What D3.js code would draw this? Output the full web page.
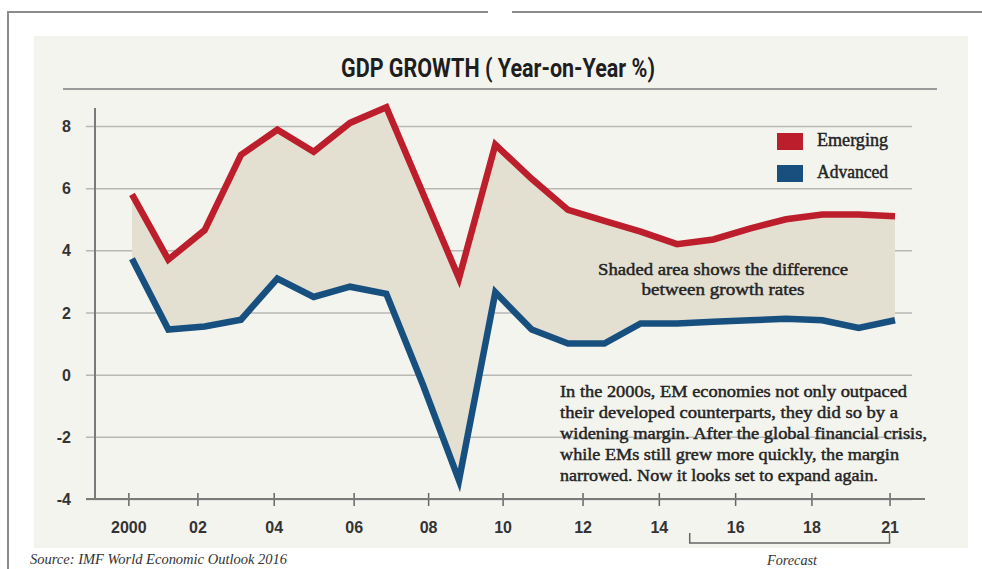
<!DOCTYPE html>
<html>
	<head>
		<meta charset="utf-8">
		<title>gdp_growth_em_vs_advanced</title>
		<script type="text/javascript" src="https://cdn.jsdelivr.net/npm/d3@7"></script>
		<style>
			body{margin:0;background:#fff;}
		</style>
	</head>
	<body>
		<script type="text/javascript">
			// data (IMF WEO 2016, y-o-y %)
			var years=[2000,2001,2002,2003,2004,2005,2006,2007,2008,2009,2010,
					   2011,2012,2013,2014,2015,2016,2017,2018,2019,2020,2021];
			var emerging=[5.8,3.7,4.65,7.07,7.88,7.17,8.1,8.6,5.85,3.1,7.4,
						  6.3,5.3,4.95,4.6,4.2,4.35,4.7,5.0,5.15,5.15,5.1];
			var advanced=[3.73,1.45,1.55,1.77,3.09,2.5,2.83,2.6,-0.3,-3.4,2.65,
						  1.45,1.0,1.0,1.65,1.65,1.7,1.75,1.8,1.75,1.5,1.75];
			// the original ticks are not quite on the data years
			var xTickPos=[1999.9,2001.8,2003.9,2006.1,2008.15,2010.2,2012.4,2014.5,2016.6,2018.7,2020.85];
			var xTickLabels=['2000','02','04','06','08','10','12','14','16','18','21'];
			var yTicks=[-4,-2,0,2,4,6,8];
			var seriesNames=['Emerging','Advanced'];
			var noteLines=['In the 2000s, EM economies not only outpaced',
						   'their developed counterparts, they did so by a',
						   'widening margin. After the global financial crisis,',
						   'while EMs still grew more quickly, the margin',
						   'narrowed. Now it looks set to expand again.'];
			var noteWidths=[347,338,367,339,318];

			var w=982;
			var h=569;
			var red='#bd1e2b';
			var blue='#17507f';
			var ink='#232323';
			var serif='"Liberation Serif","DejaVu Serif",serif';

			var table=years.map(function(d,i){
				return {year:d,em:emerging[i],adv:advanced[i]};
			});

			var svg=d3.select('body').append('svg')
					  .attr('width',w)
					  .attr('height',h)

			// outer frame
			svg.append('line').attr('x1',7).attr('x2',488).attr('y1',12).attr('y2',12)
			   .attr('stroke','#8c8c8c').attr('stroke-width',2)
			svg.append('line').attr('x1',512).attr('x2',982).attr('y1',12).attr('y2',12)
			   .attr('stroke','#8c8c8c').attr('stroke-width',2)
			svg.append('line').attr('x1',8).attr('x2',8).attr('y1',11).attr('y2',569)
			   .attr('stroke','#8c8c8c').attr('stroke-width',2)

			svg.append('rect')
			   .attr('x',34).attr('y',36)
			   .attr('width',934).attr('height',512)
			   .attr('fill','#f4f4ef')

			svg.append('text')
			   .text('GDP GROWTH ( Year-on-Year %)')
			   .attr('x',498).attr('y',77)
			   .attr('text-anchor','middle')
			   .attr('font-family','"Liberation Sans Narrow","Roboto","Liberation Sans",sans-serif')
			   .attr('font-weight','bold')
			   .attr('font-size','26px')
			   .attr('textLength',314)
			   .attr('lengthAdjust','spacingAndGlyphs')
			   .attr('fill','#1e1e1e')

			svg.append('line').attr('x1',63).attr('x2',937).attr('y1',89).attr('y2',89)
			   .attr('stroke','#9a9a9a').attr('stroke-width',2)

			var xScale=d3.scaleLinear()
						 .domain([2000,2021])
						 .range([132,895]);

			var yScale=d3.scaleLinear()
						 .domain([-4,8])
						 .range([499,126]);

			// gridlines + y labels
			var yAxis=svg.append('g')
						 .attr('transform','translate(86,0)')
						 .call(d3.axisLeft(yScale)
								 .tickValues(yTicks)
								 .tickSize(-826)
								 .tickPadding(15)
								 .tickFormat(function(d){return String(d);}))
			yAxis.select('.domain').remove()
			yAxis.selectAll('.tick line')
				 .attr('stroke','#b8b8b4')
				 .attr('stroke-width',1.5)
			yAxis.selectAll('.tick text')
				 .attr('font-family','"Liberation Sans",Arial,sans-serif')
				 .attr('font-weight','bold')
				 .attr('font-size','16px')
				 .attr('fill','#333')
				 .attr('dy','0.35em')

			// shaded gap between the two series
			var area=d3.area()
					   .x(function(d){return xScale(d.year);})
					   .y0(function(d){return yScale(d.adv);})
					   .y1(function(d){return yScale(d.em);});

			svg.append('path')
			   .datum(table)
			   .attr('d',area)
			   .attr('fill','#e3e0d2')

			// axis lines
			svg.append('line').attr('x1',95).attr('x2',95).attr('y1',108).attr('y2',499)
			   .attr('stroke','#7a7a7a').attr('stroke-width',2)

			var xAxis=svg.append('g')
						 .attr('transform','translate(0,'+yScale(-4)+')')
						 .call(d3.axisBottom(xScale)
								 .tickValues(xTickPos)
								 .tickSize(7)
								 .tickPadding(16)
								 .tickFormat(function(d,i){return xTickLabels[i];}))
			xAxis.select('.domain').remove()
			xAxis.append('line')
				 .attr('x1',86).attr('x2',925)
				 .attr('stroke','#7a7a7a').attr('stroke-width',2)
			xAxis.selectAll('.tick line')
				 .attr('y1',-6)
				 .attr('stroke','#666')
				 .attr('stroke-width',1.5)
			xAxis.selectAll('.tick text')
				 .attr('font-family','"Liberation Sans",Arial,sans-serif')
				 .attr('font-weight','bold')
				 .attr('font-size','16px')
				 .attr('fill','#333')

			var lineEm=d3.line()
						 .x(function(d){return xScale(d.year);})
						 .y(function(d){return yScale(d.em);});
			var lineAdv=d3.line()
						  .x(function(d){return xScale(d.year);})
						  .y(function(d){return yScale(d.adv);});

			svg.append('path')
			   .datum(table)
			   .attr('d',lineAdv)
			   .attr('fill','none')
			   .attr('stroke',blue)
			   .attr('stroke-width',6.5)
			   .attr('stroke-linejoin','miter')

			svg.append('path')
			   .datum(table)
			   .attr('d',lineEm)
			   .attr('fill','none')
			   .attr('stroke',red)
			   .attr('stroke-width',6.5)
			   .attr('stroke-linejoin','miter')

			// legend
			var legend=svg.selectAll('.legend')
						  .data(seriesNames)
						  .enter()
						  .append('g')
						  .attr('class','legend')
						  .attr('transform',function(d,i){
											return 'translate(777,'+(133+i*32)+')';
										})
			legend.append('rect')
				  .attr('width',26).attr('height',17)
				  .attr('fill',function(d,i){return i==0?red:blue;})
			legend.append('text')
				  .text(function(d){return d;})
				  .attr('x',40).attr('y',13)
				  .attr('font-family',serif)
				  .attr('font-size','18px')
				  .attr('textLength',71)
				  .attr('lengthAdjust','spacingAndGlyphs')
				  .attr('fill',ink)
				  .attr('stroke',ink)
				  .attr('stroke-width',0.45)

			// annotations
			svg.selectAll('.shade-note')
			   .data(['Shaded area shows the difference','between growth rates'])
			   .enter()
			   .append('text')
			   .attr('class','shade-note')
			   .text(function(d){return d;})
			   .attr('x',723)
			   .attr('y',function(d,i){return 275+i*20;})
			   .attr('text-anchor','middle')
			   .attr('font-family',serif)
			   .attr('font-size','17px')
			   .attr('textLength',function(d,i){return i==0?250:163;})
			   .attr('lengthAdjust','spacingAndGlyphs')
			   .attr('fill',ink)
			   .attr('stroke',ink)
			   .attr('stroke-width',0.45)

			svg.selectAll('.note')
			   .data(noteLines)
			   .enter()
			   .append('text')
			   .attr('class','note')
			   .text(function(d){return d;})
			   .attr('x',560)
			   .attr('y',function(d,i){return 397+i*21;})
			   .attr('font-family',serif)
			   .attr('font-size','17px')
			   .attr('textLength',function(d,i){return noteWidths[i];})
			   .attr('lengthAdjust','spacingAndGlyphs')
			   .attr('fill',ink)
			   .attr('stroke',ink)
			   .attr('stroke-width',0.45)

			// forecast bracket
			svg.append('path')
			   .attr('d','M'+xScale(2015.35)+',533V543H'+xScale(2020.85)+'V533')
			   .attr('fill','none')
			   .attr('stroke','#666')
			   .attr('stroke-width',1.5)
			svg.append('text')
			   .text('Forecast')
			   .attr('x',792).attr('y',565)
			   .attr('text-anchor','middle')
			   .attr('font-family',serif)
			   .attr('font-style','italic')
			   .attr('font-size','14px')
			   .attr('textLength',50)
			   .attr('lengthAdjust','spacingAndGlyphs')
			   .attr('fill','#333')

			svg.append('text')
			   .text('Source: IMF World Economic Outlook 2016')
			   .attr('x',30).attr('y',564)
			   .attr('font-family',serif)
			   .attr('font-style','italic')
			   .attr('font-size','15px')
			   .attr('textLength',257)
			   .attr('lengthAdjust','spacingAndGlyphs')
			   .attr('fill','#333')
		</script>
	</body>
</html>
